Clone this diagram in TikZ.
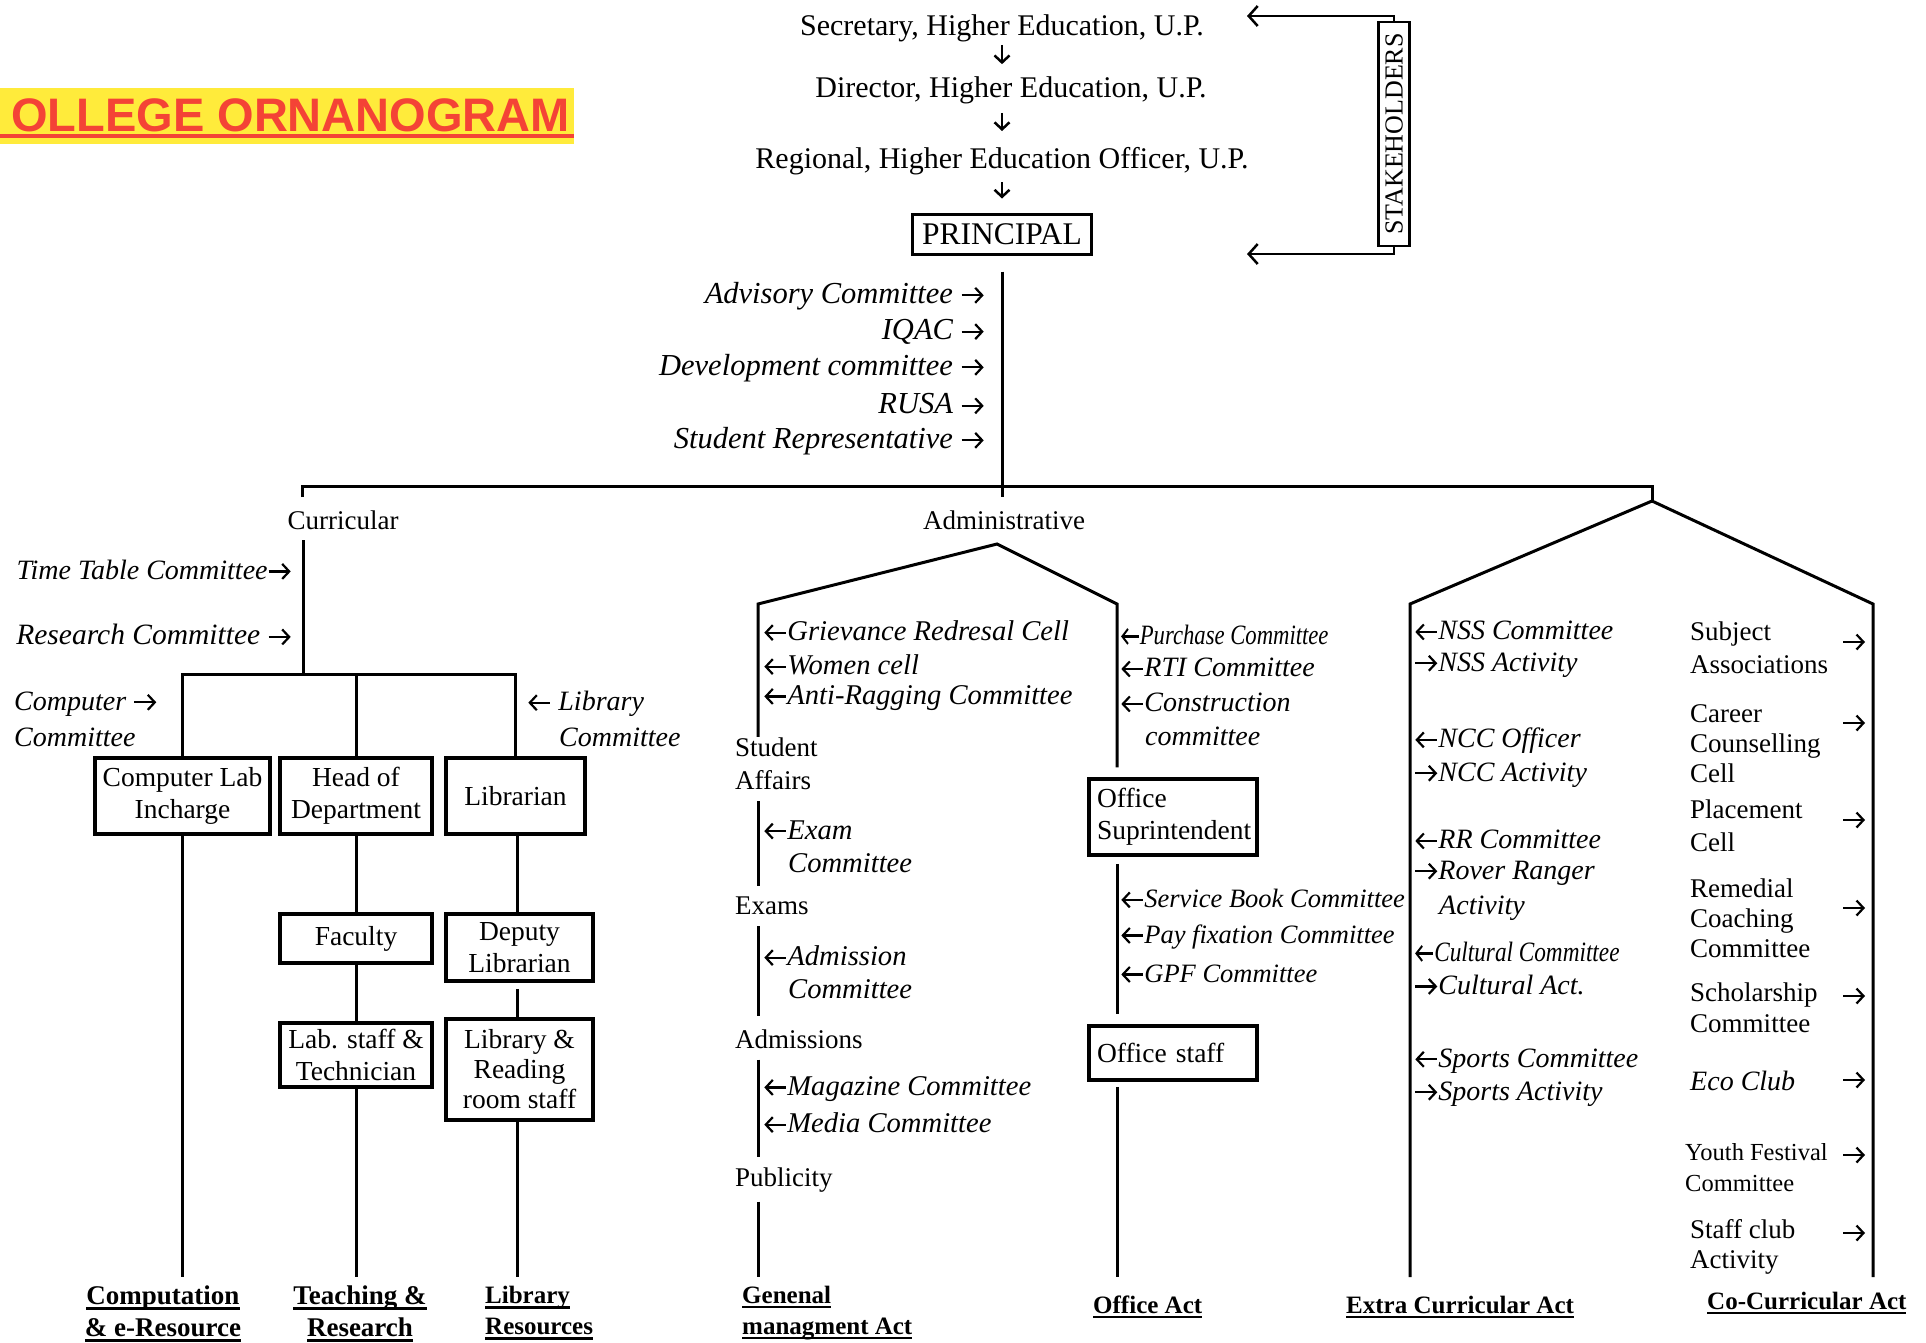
\documentclass[tikz,border=0pt]{standalone}
\usepackage{fontspec}
\usepackage{graphicx}
\setmainfont{Liberation Serif}
\newfontfamily\titlefont{Liberation Sans}
\usetikzlibrary{arrows.meta}
\definecolor{ttlred}{RGB}{244,67,54}
\definecolor{ttlyel}{RGB}{255,235,59}
\newsavebox\myulbox
\newcommand\myul[1]{\sbox\myulbox{#1}\leavevmode\rlap{\rule[-5pt]{\wd\myulbox}{2.4pt}}\usebox\myulbox}
\newcommand\rgt{\tikz[baseline=-8pt]\draw[line width=2.2pt, -{Straight Barb[length=7pt,width=15pt]}] (0pt,0pt) -- (22pt,0pt);}
\newcommand\lft{\tikz[baseline=-8pt]\draw[line width=2.2pt, {Straight Barb[length=7pt,width=15pt]}-] (0pt,0pt) -- (22pt,0pt);}
\newcommand\cond[2]{\scalebox{#1}[1]{#2}}
\begin{document}
\begin{tikzpicture}[x=1pt,y=-1pt,
 ln/.style={line width=3pt},
 bx/.style={draw, line width=3.5pt, align=center, inner sep=2pt, font=\fontsize{27.5}{32}\selectfont},
 it/.style={inner sep=1pt, anchor=west, font=\fontsize{28}{33}\selectfont\itshape},
 itl/.style={inner sep=1pt, anchor=west, font=\fontsize{28.6}{33}\selectfont\itshape},
 itp/.style={inner sep=1pt, anchor=east, font=\fontsize{30.5}{33}\selectfont\itshape},
 its/.style={inner sep=1pt, anchor=west, font=\fontsize{26.5}{33}\selectfont\itshape},
 up/.style={inner sep=1pt, anchor=west, align=left, font=\fontsize{27}{33}\selectfont},
 co/.style={inner sep=1pt, anchor=west, align=left, font=\fontsize{27}{30}\selectfont},
 bl/.style={inner sep=1pt, align=left, font=\fontsize{25}{31}\selectfont\bfseries},
 blb/.style={inner sep=1pt, align=center, font=\fontsize{27}{32}\selectfont\bfseries},
 toptx/.style={inner sep=1pt, font=\fontsize{30}{34}\selectfont},
 rarr/.style={inner sep=0pt, font=\fontsize{28}{33}\selectfont},
 arr/.style={line width=2.5pt, -{Straight Barb[length=7pt,width=15pt,line width=2.5pt]}},
 arrs/.style={line width=2.5pt, -{Straight Barb[length=9pt,width=20pt,line width=2.5pt]}},
]
\fill[white] (0,0) rectangle (1926,1342);
\useasboundingbox (0,0) rectangle (1926,1342);

% title
\fill[ttlyel] (0,88) rectangle (574,144);
\node[anchor=base west, inner sep=0pt, text=ttlred, font=\titlefont\bfseries\fontsize{47}{50}\selectfont] (title) at (11,131) {OLLEGE ORNANOGRAM};
\fill[ttlred] (0,133.5) rectangle (574,137.5);

% top chain
\node[toptx] (sec) at (1002,28) {Secretary, Higher Education, U.P.};
\node[toptx] (dir) at (1011,90) {Director, Higher Education, U.P.};
\node[toptx] (reg) at (1002,161) {Regional, Higher Education Officer, U.P.};
\node[draw, line width=3pt, minimum width=179pt, minimum height=40pt, inner sep=0pt, font=\fontsize{31.5}{34}\selectfont] (prin) at (1002,234) {PRINCIPAL};
\draw[arr, shorten <=2pt, shorten >=11pt] (sec.south) -- (sec.south |- dir.north);
\draw[arr, shorten <=8pt, shorten >=15pt] (sec.south |- dir.south) -- (sec.south |- reg.north);
\draw[arr, shorten <=6pt, shorten >=14pt] (reg.south) -- (prin.north);

% stakeholders
\node[draw, line width=2.5pt, rotate=90, minimum width=224pt, minimum height=31pt, inner sep=0pt, font=\fontsize{26}{28}\selectfont] (stk) at (1394,134) {STAKEHOLDERS};
\coordinate (stkT) at (1247,16);
\coordinate (stkB) at (1247,254);
\draw[arrs] (stk.east) |- (stkT);
\draw[arrs] (stk.west) |- (stkB);

% committees under principal
\node[itp] (adv) at (986,296) {Advisory Committee \rgt};
\node[itp] (iqac) at (986,332) {IQAC \rgt};
\node[itp] (dev) at (986,368) {Development committee \rgt};
\node[itp] (rusa) at (986,404) {RUSA \rgt};
\node[itp] (srep) at (986,441) {Student Representative \rgt};

% main tree lines
\coordinate (mE) at (1002,497);
\coordinate (hL) at (302,486);
\coordinate (hR) at (1652,486);
\coordinate (xa) at (1652,501);
\coordinate (bot) at (0,1277);
\draw[ln] ([yshift=-16pt]prin.south) -- (mE);
\draw[ln] ([yshift=-11pt]hL) -- (hL) -- (hR) -- (xa);

% ---------- Curricular ----------
\node[up, anchor=center] (cur) at (343,520) {Curricular};
\coordinate (cj) at (303,674);
\draw[ln] (303,540) -- (cj);
\node[it, anchor=east] (ttc) at (293,570) {Time Table Committee\rgt};
\node[it, anchor=east, font=\fontsize{29.5}{33}\selectfont\itshape] (rsc) at (293,635) {Research Committee \rgt};
\node[it] (cc1) at (13,704) {Computer \rgt};
\node[it] (cc2) at (13,737) {Committee};
\node[it] (lc1) at (526,704) {\lft\ Library};
\node[it] (lc2) at (558,737) {Committee};

\node[bx, minimum width=175pt, minimum height=76pt] (cli) at (182.5,796) {Computer Lab\\Incharge};
\node[bx, minimum width=152pt, minimum height=76pt] (hod) at (356,796) {Head of\\Department};
\node[bx, minimum width=139pt, minimum height=76pt] (lib) at (515.5,796) {Librarian};
\node[bx, minimum width=152pt, minimum height=49pt] (fac) at (356,938.5) {Faculty};
\node[bx, minimum width=147pt, minimum height=67pt] (dlib) at (519.5,947.5) {Deputy\\Librarian};
\node[bx, minimum width=152pt, minimum height=64pt] (lab) at (356,1055) {Lab. staff \&\\Technician};
\node[bx, minimum width=147pt, minimum height=101pt, font=\fontsize{27.5}{30}\selectfont] (lrr) at (519.5,1069.5) {Library \&\\Reading\\room staff};

\draw[ln] (cli.north) -- (cli.north |- cj) -- (lib.north |- cj) -- (lib.north);
\draw[ln] (hod.north) -- (hod.north |- cj);
\draw[ln] (cli.south) -- (cli.south |- bot);
\draw[ln] (hod.south) -- (fac.north);
\draw[ln] (fac.south) -- (lab.north);
\draw[ln] (lab.south) -- (lab.south |- bot);
\coordinate (lx) at (517,0);
\draw[ln] (lx |- lib.south) -- (lx |- dlib.north);
\draw[ln, shorten <=6pt] (lx |- dlib.south) -- (lx |- lrr.north);
\draw[ln] (lx |- lrr.south) -- (lx |- bot);

% ---------- Administrative ----------
\node[up, anchor=center] (adm) at (1004,520) {Administrative};
\coordinate (aa) at (997,544);
\coordinate (al) at (758,604);
\coordinate (ar) at (1117,604);

\node[itl] (grc) at (762,631) {\lft Grievance Redresal Cell};
\node[itl] (wc) at (762,665) {\lft Women cell};
\node[itl] (arc) at (762,698) {\lft Anti-Ragging Committee};
\node[up] (stud) at (734,764) {Student\\Affairs};
\node[itl] (exc) at (762,830) {\lft Exam};
\node[itl] (exc2) at (787,863) {Committee};
\node[up] (exams) at (734,906) {Exams};
\node[itl] (adc) at (762,956) {\lft Admission};
\node[itl] (adc2) at (787,989) {Committee};
\node[up] (admis) at (734,1039) {Admissions};
\node[itl] (mag) at (762,1089) {\lft Magazine Committee};
\node[itl] (med) at (762,1123) {\lft Media Committee};
\node[up] (pub) at (734,1180) {Publicity};

\node[it] (pc) at (1119,635) {\cond{0.81}{\lft Purchase Committee}};
\node[it] (rti) at (1119,668) {\lft RTI Committee};
\node[it] (con) at (1119,703) {\lft Construction};
\node[it] (con2) at (1144,736) {committee};
\node[bx, text width=152pt, align=left, inner xsep=8pt, minimum height=76pt] (ofs) at (1173,817) {Office\\Suprintendent};
\node[its] (sbc) at (1119,899) {\lft Service Book Committee};
\node[its] (pfc) at (1119,937) {\lft Pay fixation Committee};
\node[its] (gpf) at (1119,974) {\lft GPF Committee};
\node[bx, text width=152pt, align=left, inner xsep=8pt, minimum height=54pt] (ofst) at (1173,1053) {Office staff};

\draw[ln, shorten >=10pt] (al |- stud.north) -- (al) -- (aa) -- (ar) -- (ar |- ofs.north);
\draw[ln, shorten <=10pt, shorten >=10pt] (al |- stud.south) -- (al |- exams.north);
\draw[ln, shorten <=10pt, shorten >=12pt] (al |- exams.south) -- (al |- admis.north);
\draw[ln, shorten <=10pt, shorten >=10pt] (al |- admis.south) -- (al |- pub.north);
\draw[ln, shorten <=8pt] (al |- pub.south) -- (al |- bot);
\draw[ln, shorten <=7pt, shorten >=10pt] (ar |- ofs.south) -- (ar |- ofst.north);
\draw[ln, shorten <=5pt] (ar |- ofst.south) -- (ar |- bot);

% ---------- Extra / Co-curricular ----------
\coordinate (xl) at (1410,604);
\coordinate (xr) at (1873,604);
\draw[ln] (xl |- bot) -- (xl) -- (xa) -- (xr) -- (xr |- bot);

\node[it] (nss1) at (1413,631) {\lft NSS Committee};
\node[it] (nss2) at (1413,665) {\rgt NSS Activity};
\node[it] (ncc1) at (1413,741) {\lft NCC Officer};
\node[it] (ncc2) at (1413,775) {\rgt NCC Activity};
\node[it] (rr1) at (1413,840) {\lft RR Committee};
\node[it] (rr2) at (1413,873) {\rgt Rover Ranger};
\node[it] (rr3) at (1438,908) {Activity};
\node[it] (cul1) at (1413,952) {\cond{0.83}{\lft Cultural Committee}};
\node[it] (cul2) at (1413,985) {\rgt Cultural Act.};
\node[it] (sp1) at (1413,1061) {\lft Sports Committee};
\node[it] (sp2) at (1413,1094) {\rgt Sports Activity};

\node[co, font=\fontsize{27}{33}\selectfont] (sa) at (1689,648) {Subject\\Associations};
\node[co] (ccc) at (1689,744) {Career\\Counselling\\Cell};
\node[co, font=\fontsize{27}{33}\selectfont] (plc) at (1689,826) {Placement\\Cell};
\node[co] (rcc) at (1689,918) {Remedial\\Coaching\\Committee};
\node[co, font=\fontsize{27}{31}\selectfont] (sch) at (1689,1008) {Scholarship\\Committee};
\node[it] (eco) at (1689,1081) {Eco Club};
\node[co, font=\fontsize{24.5}{31}\selectfont] (yfc) at (1684,1168) {Youth Festival\\Committee};
\node[co] (scl) at (1689,1247) {Staff club\\Activity};
\node[rarr] (r1) at (1854,642) {\rgt};
\node[rarr] (r2) at (1854,723) {\rgt};
\node[rarr] (r3) at (1854,820) {\rgt};
\node[rarr] (r4) at (1854,908) {\rgt};
\node[rarr] (r5) at (1854,996) {\rgt};
\node[rarr] (r6) at (1854,1080) {\rgt};
\node[rarr] (r7) at (1854,1155) {\rgt};
\node[rarr] (r8) at (1854,1233) {\rgt};

% ---------- bottom labels ----------
\node[blb] (b1) at (163,1314) {\myul{Computation}\\\myul{\& e-Resource}};
\node[blb] (b2) at (360,1314) {\myul{Teaching \&}\\\myul{Research}};
\node[bl, anchor=west] (b3) at (484,1313) {\myul{Library}\\\myul{Resources}};
\node[bl, anchor=west] (b4) at (741,1313) {\myul{Genenal}\\\myul{managment Act}};
\node[bl, anchor=west] (b5) at (1092,1307) {\myul{Office Act}};
\node[bl, anchor=west] (b6) at (1345,1307) {\myul{Extra Curricular Act}};
\node[bl, anchor=west] (b7) at (1706,1303) {\myul{Co-Curricular Act}};
\end{tikzpicture}
\end{document}
